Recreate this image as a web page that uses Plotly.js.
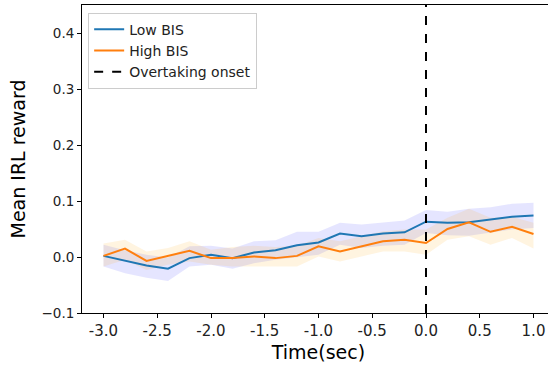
<!DOCTYPE html>
<html>
<head>
<meta charset="utf-8">
<script src="https://cdn.plot.ly/plotly-3.0.1.min.js"></script>
<style>
html,body{margin:0;padding:0;overflow:hidden;background:#fff;}
#chart{width:560px;height:370px;}
</style>
</head>
<body>
<div id="chart"></div>
<script>
// Time points (sec)
const timeSec = [-3.0,-2.8,-2.6,-2.4,-2.2,-2.0,-1.8,-1.6,-1.4,-1.2,-1.0,-0.8,-0.6,-0.4,-0.2,0.0,0.2,0.4,0.6,0.8,1.0];

// Low BIS mean and band
const lowMean  = [0.002,-0.006,-0.015,-0.021,-0.002,0.004,-0.002,0.008,0.012,0.021,0.026,0.042,0.037,0.042,0.044,0.063,0.061,0.062,0.067,0.072,0.074];
const lowUpper = [0.022,0.012,0.004,-0.001,0.019,0.020,0.015,0.028,0.030,0.045,0.045,0.061,0.058,0.062,0.065,0.084,0.081,0.086,0.089,0.095,0.097];
const lowLower = [-0.017,-0.029,-0.037,-0.043,-0.017,-0.014,-0.021,-0.011,-0.005,0.000,0.004,0.022,0.016,0.020,0.022,0.043,0.039,0.038,0.043,0.049,0.052];

// High BIS mean and band
const highMean  = [0.002,0.015,-0.007,0.002,0.011,-0.002,-0.002,0.001,-0.002,0.002,0.019,0.010,0.019,0.028,0.031,0.025,0.050,0.062,0.045,0.054,0.041];
const highUpper = [0.024,0.031,0.010,0.016,0.028,0.013,0.018,0.020,0.018,0.020,0.034,0.028,0.037,0.046,0.049,0.049,0.070,0.086,0.070,0.072,0.061];
const highLower = [-0.017,-0.005,-0.023,-0.014,-0.008,-0.014,-0.017,-0.017,-0.017,-0.017,0.001,-0.008,0.001,0.010,0.010,0.004,0.031,0.037,0.022,0.034,0.015];

// Onset and axis settings
const onsetTime = [0.0];
const yRange = [-0.1, 0.45];
const xRange = [-3.2, 1.2];
const xTickVals = [-3.0,-2.5,-2.0,-1.5,-1.0,-0.5,0.0,0.5,1.0];
const xTickText = ["-3.0","-2.5","-2.0","-1.5","-1.0","-0.5","0.0","0.5","1.0"];
const yTickVals = [-0.1,0.0,0.1,0.2,0.3,0.4];
const yTickText = ["\u22120.1","0.0","0.1","0.2","0.3","0.4"];

const FONT = "DejaVu Sans, sans-serif";

function band(upper, lower, color){
  return [
    {x: timeSec, y: upper, mode:'lines', line:{width:0, color:color}, hoverinfo:'skip', showlegend:false},
    {x: timeSec, y: lower, mode:'lines', line:{width:0, color:color}, fill:'tonexty', fillcolor:color, hoverinfo:'skip', showlegend:false}
  ];
}

const traces = [
  ...band(lowUpper, lowLower, 'rgba(0,0,255,0.1)'),
  ...band(highUpper, highLower, 'rgba(255,165,0,0.12)'),
  {x: timeSec, y: lowMean, mode:'lines', name:'Low BIS', line:{color:'#1f77b4', width:2}},
  {x: timeSec, y: highMean, mode:'lines', name:'High BIS', line:{color:'#ff7f0e', width:2}},
  {x: [onsetTime[0], onsetTime[0]], y: yRange, mode:'lines', name:'Overtaking onset', line:{color:'#000', width:2, dash:'dash'}}
];

const layout = {
  width: 560, height: 370,
  margin: {l:82, r:5, t:5, b:57},
  paper_bgcolor:'#fff', plot_bgcolor:'#fff',
  font: {family: FONT, color:'#000'},
  showlegend: true,
  legend: {
    x: 0.013, y: 0.975, xanchor:'left', yanchor:'top',
    traceorder:'normal', itemwidth:30,
    bgcolor:'rgba(255,255,255,0.8)', bordercolor:'#cccccc', borderwidth:1,
    font:{family:FONT, size:14, color:'#222'},
    tracegroupgap: 0
  },
  xaxis: {
    range: xRange, showgrid:false, zeroline:false,
    showline:true, linecolor:'#000', linewidth:1, mirror:true,
    ticks:'outside', ticklen:4, tickwidth:1, tickcolor:'#000',
    tickvals: xTickVals, ticktext: xTickText,
    tickfont:{family:FONT, size:15, color:'#222'},
    title:{text:'Time(sec)', font:{family:FONT, size:19, color:'#000'}, standoff:6}
  },
  yaxis: {
    range: yRange, showgrid:false, zeroline:false,
    showline:true, linecolor:'#000', linewidth:1,
    ticks:'outside', ticklen:4, tickwidth:1, tickcolor:'#000',
    tickvals: yTickVals, ticktext: yTickText,
    tickfont:{family:FONT, size:13.5, color:'#222'},
    title:{text:'Mean IRL reward', font:{family:FONT, size:19, color:'#000'}, standoff:10}
  }
};

Plotly.newPlot('chart', traces, layout, {displayModeBar:false, staticPlot:true});
</script>
</body>
</html>
